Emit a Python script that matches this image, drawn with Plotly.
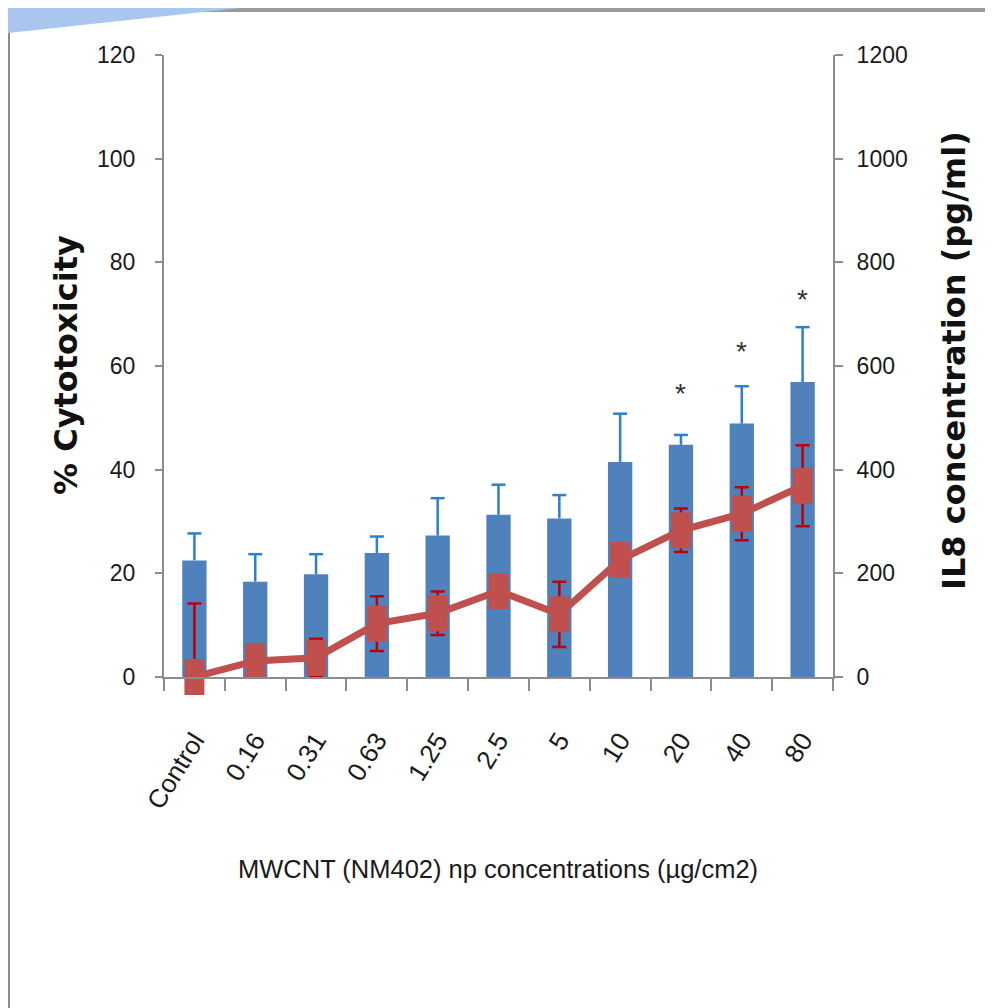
import plotly.graph_objects as go

# ---------------- data ----------------
categories = ["Control", "0.16", "0.31", "0.63", "1.25", "2.5", "5", "10", "20", "40", "80"]
cytotox = [22.5, 18.4, 19.8, 23.9, 27.3, 31.3, 30.6, 41.5, 44.8, 48.9, 56.9]          # % cytotoxicity (bars)
cytotox_err = [5.2, 5.3, 3.9, 3.2, 7.2, 5.8, 4.5, 9.3, 1.9, 7.2, 10.6]
il8 = [0, 31, 37, 103, 123, 166, 121, 226, 283, 315, 369]                              # IL8 pg/ml (line)
il8_err = [142, 20, 37, 53, 42, 25, 63, 25, 42, 51, 78]
sig_labels = ["", "", "", "", "", "", "", "", "*", "*", "*"]
sig_y = [None, None, None, None, None, None, None, None, 55.2, 63.3, 73.5]

left_ticks = [0, 20, 40, 60, 80, 100, 120]
right_ticks = [0, 200, 400, 600, 800, 1000, 1200]

# ---------------- style ----------------
OFF = 8                      # page body margin of the browser
W, H = 993 - OFF, 1008 - OFF
ML, MT = 164 - OFF, 55 - OFF
PLOT_R, PLOT_B = 833 - OFF, 677 - OFF
MR, MB = W - PLOT_R, H - PLOT_B
PW, PH = W - ML - MR, H - MT - MB
BAR_BLUE = "#4F81BD"
ERR_BLUE = "#2A80D2"
LINE_RED = "#C0504D"
ERR_RED = "#C00000"
AXIS_GRAY = "#8C8C8C"
TXT = "#1A1A1A"
SANS = "Liberation Sans, Arial, sans-serif"
BOLD = "DejaVu Sans, Verdana, sans-serif"


def px_x(sx):
    """screen x (px) -> paper x"""
    return (sx - OFF - ML) / PW


def px_y(sy):
    """screen y (px) -> paper y"""
    return (H - MB - (sy - OFF)) / PH


fig = go.Figure()

# bars with plus-only error lines
fig.add_trace(go.Bar(
    x=categories, y=cytotox,
    marker=dict(color=BAR_BLUE, line=dict(width=0)),
    error_y=dict(type="data", symmetric=False, array=cytotox_err,
                 arrayminus=[0] * len(cytotox), color=ERR_BLUE, thickness=2.5, width=0),
    yaxis="y", showlegend=False, hoverinfo="skip",
))
# caps of the bar error lines
fig.add_trace(go.Scatter(
    x=categories, y=[v + e for v, e in zip(cytotox, cytotox_err)],
    mode="markers",
    marker=dict(symbol="line-ew", size=10, color=ERR_BLUE, line=dict(color=ERR_BLUE, width=2.5)),
    yaxis="y", showlegend=False, hoverinfo="skip",
))
# IL8 error bars (clipped)
fig.add_trace(go.Scatter(
    x=categories, y=il8, mode="markers",
    marker=dict(size=1, color="rgba(0,0,0,0)"),
    error_y=dict(type="data", array=il8_err, color=ERR_RED, thickness=2.5, width=7),
    yaxis="y2", cliponaxis=True, showlegend=False, hoverinfo="skip",
))
# IL8 line with rectangular markers
fig.add_trace(go.Scatter(
    x=categories, y=il8, mode="lines+markers",
    line=dict(color=LINE_RED, width=7),
    marker=dict(symbol="line-ns", size=25.7, color=LINE_RED,
                line=dict(color=LINE_RED, width=20)),
    yaxis="y2", cliponaxis=False, showlegend=False, hoverinfo="skip",
))

annotations = []
for i, (s, yv) in enumerate(zip(sig_labels, sig_y)):
    if s and yv is not None:
        annotations.append(dict(x=i, y=yv, xref="x", yref="y", text=s, showarrow=False,
                                font=dict(family=SANS, size=28, color="#333333"),
                                xanchor="center", yanchor="middle", yshift=-3))

annotations += [
    dict(x=px_x(66), y=px_y(365), xref="paper", yref="paper", text="<b>% Cytotoxicity</b>",
         textangle=-90, showarrow=False, xanchor="center", yanchor="middle",
         font=dict(family=BOLD, size=32, color="#111111")),
    dict(x=px_x(954), y=px_y(361), xref="paper", yref="paper", text="<b>IL8 concentration (pg/ml)</b>",
         textangle=-90, showarrow=False, xanchor="center", yanchor="middle",
         font=dict(family=BOLD, size=32, color="#111111")),
    dict(x=px_x(498), y=px_y(869), xref="paper", yref="paper",
         text="MWCNT (NM402) np concentrations (µg/cm2)",
         showarrow=False, xanchor="center", yanchor="middle",
         font=dict(family=SANS, size=25.5, color=TXT)),
]

shapes = [
    # top border
    dict(type="line", xref="paper", yref="paper", x0=px_x(8), x1=px_x(993), y0=px_y(10), y1=px_y(10),
         line=dict(color="#9A9A9A", width=4)),
    # left border
    dict(type="line", xref="paper", yref="paper", x0=px_x(9), x1=px_x(9), y0=px_y(30), y1=px_y(1008),
         line=dict(color=AXIS_GRAY, width=2)),
    # blue corner triangle
    dict(type="path", xref="paper", yref="paper",
         path=f"M {px_x(8)},{px_y(8)} L {px_x(240)},{px_y(8)} L {px_x(8)},{px_y(33)} Z",
         fillcolor="#A9C6EE", line=dict(width=0)),
]

fig.update_layout(
    width=W, height=H,
    margin=dict(l=ML, r=MR, t=MT, b=MB, autoexpand=False),
    paper_bgcolor="white", plot_bgcolor="white",
    bargap=0.6,
    showlegend=False,
    annotations=annotations,
    shapes=shapes,
    xaxis=dict(type="category", categoryorder="array", categoryarray=categories,
               range=[-0.5, len(categories) - 0.5], autorange=False,
               showline=True, linecolor=AXIS_GRAY, linewidth=2,
               ticks="outside", tickson="boundaries", ticklen=12, tickcolor=AXIS_GRAY, tickwidth=2,
               tickangle=-58, ticklabelstandoff=36,
               tickfont=dict(family=SANS, size=26, color=TXT),
               showgrid=False, zeroline=False),
    yaxis=dict(range=[0, 120], tickvals=left_ticks, showline=True, linecolor=AXIS_GRAY, linewidth=2,
               ticks="outside", ticklen=7, tickcolor=AXIS_GRAY, tickwidth=2, ticklabelstandoff=15,
               tickfont=dict(family=SANS, size=23, color=TXT),
               showgrid=False, zeroline=False),
    yaxis2=dict(range=[0, 1200], tickvals=right_ticks, overlaying="y", side="right",
                showline=True, linecolor=AXIS_GRAY, linewidth=2,
                ticks="outside", ticklen=8, tickcolor=AXIS_GRAY, tickwidth=2, ticklabelstandoff=9,
                tickfont=dict(family=SANS, size=23, color=TXT),
                showgrid=False, zeroline=False),
)

fig.write_html("out.html")
